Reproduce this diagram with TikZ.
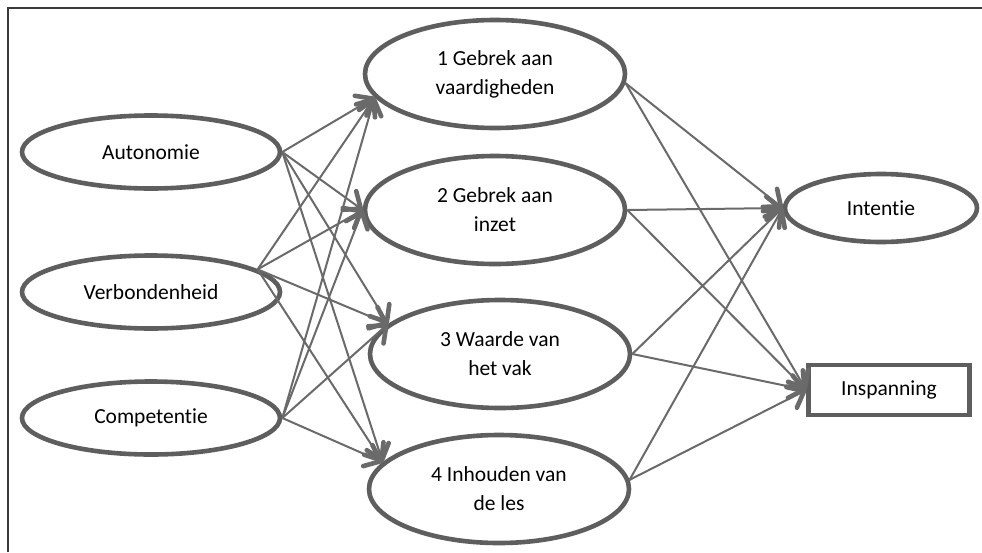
\documentclass[tikz,border=0pt]{standalone}
\usepackage{fontspec}
\setmainfont[Ligatures=NoCommon]{Carlito}
\usetikzlibrary{arrows.meta,shapes.geometric}
\definecolor{ovalgray}{HTML}{5E5E5E}
\definecolor{linkgray}{HTML}{6A6A6A}
\definecolor{framegray}{HTML}{3A3A3A}
\begin{document}
\begin{tikzpicture}[x=1pt,y=-1pt,
  oval/.style={ellipse, draw=ovalgray, line width=4.6pt, inner sep=0pt,
    font=\fontsize{21.5}{29}\selectfont, align=center, text=black},
  source/.style={oval, minimum width=258pt, minimum height=73pt},
  factor/.style={oval, minimum width=260pt, minimum height=108pt},
  outcome/.style={oval, minimum width=192pt, minimum height=68pt},
  outbox/.style={rectangle, draw=ovalgray, line width=4.6pt, inner sep=0pt,
    minimum width=161pt, minimum height=50pt,
    font=\fontsize{21.5}{29}\selectfont, text=black},
  link/.style={draw=linkgray, line width=2pt,
    -{Straight Barb[length=14pt, width=23pt, line width=4.6pt, round]}},
]
\useasboundingbox (0,0) rectangle (982,552);
\fill[white] (0,0) rectangle (982,552);

% open frame: left and top edges
\draw[framegray, line width=2pt] (8,552) -- (8,8) -- (982,8);

% motivation sources
\node[source] (aut) at (151,152) {Autonomie};
\node[source] (ver) at (151,292) {Verbondenheid};
\node[source] (com) at (151,418) {Competentie};

% factors
\node[factor] (g1) at (495,74)  {1 Gebrek aan\\vaardigheden};
\node[factor] (g2) at (495,210) {2 Gebrek aan\\inzet};
\node[factor] (g3) at (500,354) {3 Waarde van\\het vak};
\node[factor] (g4) at (499,489) {4 Inhouden van\\de les};

% outcomes
\node[outcome] (int) at (881,208) {Intentie};
\node[outbox] (ins) at (889,390) {Inspanning};

% sources to factors
\foreach \s/\a in {aut/east, ver/12, com/east}{
  \draw[link] (\s.\a) -- (g1.191);
  \draw[link] (\s.\a) -- (g2.west);
  \draw[link] (\s.\a) -- (g3.165);
  \draw[link] (\s.\a) -- (g4.167);
}

% factors to outcomes
\foreach \f/\a in {g1/-4, g2/east, g3/east, g4/4}{
  \draw[link] (\f.\a) -- (int.west);
  \draw[link] (\f.\a) -- (ins.west);
}
\end{tikzpicture}
\end{document}
